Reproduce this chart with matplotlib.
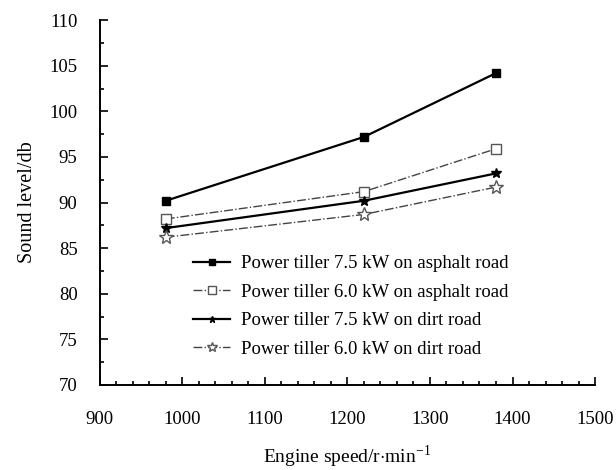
import matplotlib
matplotlib.use("Agg")
import matplotlib.pyplot as plt
from matplotlib.ticker import MultipleLocator

## data
engine_speed = [980, 1220, 1380]
tiller75_asphalt = [90.2, 97.2, 104.2]
tiller60_asphalt = [88.2, 91.2, 95.9]
tiller75_dirt = [87.2, 90.2, 93.2]
tiller60_dirt = [86.2, 88.7, 91.7]

labels = ["Power tiller 7.5 kW on asphalt road",
          "Power tiller 6.0 kW on asphalt road",
          "Power tiller 7.5 kW on dirt road",
          "Power tiller 6.0 kW on dirt road"]

plt.rcParams['font.family'] = ['Liberation Serif', 'DejaVu Serif']
plt.rcParams['mathtext.fontset'] = 'custom'
plt.rcParams['mathtext.rm'] = 'Liberation Serif'

fig = plt.figure(figsize=(6.16, 4.70), dpi=100)
ax = fig.add_axes([0.162, 0.181, 0.804, 0.776])

ax.plot(engine_speed, tiller75_asphalt, color="black", lw=1.6, marker="s", ms=5.5,
        mfc="black", label=labels[0])
ax.plot(engine_speed, tiller60_asphalt, color="#444444", lw=1.0, ls="-.", marker="s", ms=7.5,
        mfc="white", mec="#555555", label=labels[1])
ax.plot(engine_speed, tiller75_dirt, color="black", lw=1.6, marker="*", ms=7,
        mfc="black", label=labels[2])
ax.plot(engine_speed, tiller60_dirt, color="#444444", lw=1.0, ls="-.", marker="*", ms=10,
        mfc="white", mec="#555555", label=labels[3])

ax.set_xlim(900, 1500)
ax.set_ylim(70, 110)
ax.xaxis.set_major_locator(MultipleLocator(100))
ax.xaxis.set_minor_locator(MultipleLocator(20))
ax.yaxis.set_major_locator(MultipleLocator(5))
ax.yaxis.set_minor_locator(MultipleLocator(2.5))
ax.tick_params(which="both", direction="in", width=1.2, labelsize=13.5, colors="black")
ax.tick_params(which="major", length=6)
ax.tick_params(which="minor", length=3)
ax.tick_params(axis="x", pad=19)
ax.tick_params(axis="y", pad=16)

for side in ["top", "right"]:
    ax.spines[side].set_visible(False)
for side in ["left", "bottom"]:
    ax.spines[side].set_linewidth(1.4)

ax.set_ylabel("Sound level/db", fontsize=14.5, labelpad=9)
ax.set_xlabel(r"Engine speed/r$\cdot$min$^{\mathregular{-1}}$", fontsize=14, labelpad=11)

ax.legend(loc="upper left", bbox_to_anchor=(0.173, 0.376), frameon=False, fontsize=13.5,
          handlelength=2.0, handletextpad=0.55, labelspacing=0.6, markerscale=0.7,
          borderaxespad=0)

fig.savefig("out.png", dpi=100)
